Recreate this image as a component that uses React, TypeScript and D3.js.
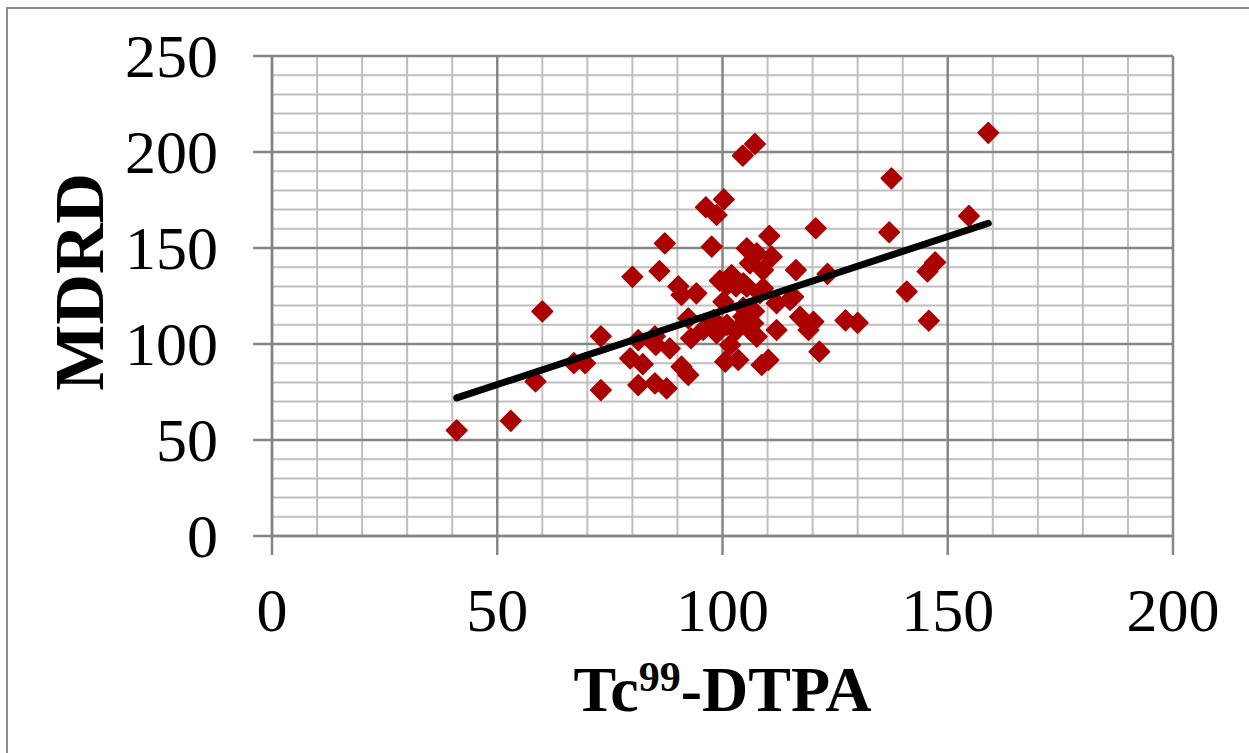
import React, { useEffect } from "react";
import * as d3 from "d3";

// Tc99-DTPA (x) vs MDRD (y)
const tcDtpa = [
  41, 53, 58.5, 60, 67, 69.5, 73, 73,
  79.5, 80, 81.3, 81.3, 82.3, 85, 85.2, 85, 86, 87.2, 87.6, 88.3, 90.2, 90.9, 90.9, 92.4, 92.4, 93, 94.2,
  95.7, 96.3, 97.6, 98, 98.7, 98.7, 100.3, 100.2, 100.6, 100.9, 101.3, 101.7, 102, 103.5, 104.5, 104.6, 104.6,
  105.4, 105.4, 106.1, 106.1, 106.8, 107.2, 107.6, 107.6, 108.7, 109, 109, 110.2, 110.4, 110.9, 112, 112,
  115, 115.7, 116.3, 117.2, 119.1, 120.2, 120.7, 121.5, 123.3, 127.3, 130, 137, 137.5, 140.9, 145.8, 145.5,
  147.2, 154.7, 159,
  103, 108.3, 104.6, 99.4, 101, 103, 107,
];
const mdrd = [
  55, 60, 80.5, 117, 90, 90, 104, 76,
  92.5, 135, 102, 78.6, 89.5, 104, 99.5, 79.5, 138, 152.4, 76.9, 97.7, 130, 125.5, 88.2, 83.9, 113.4, 103, 126.4,
  107.3, 171.2, 150.7, 112.5, 167.2, 105.6, 175.3, 122, 90.8, 130.7, 131.6, 99.5, 135.9, 91.7, 198.1, 131.6, 114.2,
  149.8, 129.9, 142, 107.3, 110.8, 204.2, 147.2, 103.8, 89.1, 138.5, 129, 91.7, 156.3, 145.5, 121.2, 107.3,
  122.9, 124.6, 138.5, 114.2, 107.3, 111.6, 160.3, 96, 136.5, 112.3, 111, 158.2, 186.3, 127.3, 112.1, 137.8,
  142.5, 166.7, 210,
  130, 126.5, 119, 133, 110, 107, 117,
];
const xTicks = [0, 50, 100, 150, 200];
const yTicks = [0, 50, 100, 150, 200, 250];

// linear trend line
const trendSlope = 0.771;
const trendIntercept = 40.3;

const width = 1249;
const height = 753;
const margin = { top: 56, right: 76, bottom: 217, left: 272 };
const font = "'Liberation Serif', 'Times New Roman', serif";

export default function App() {
  useEffect(() => {
    document.body.style.margin = "0";
  }, []);

  const x = d3.scaleLinear().domain([0, 200]).range([margin.left, width - margin.right]);
  const y = d3.scaleLinear().domain([0, 250]).range([height - margin.bottom, margin.top]);

  const gridX = d3.range(0, 201, 10);
  const gridY = d3.range(0, 251, 10);
  const diamond = d3.symbol().type(d3.symbolSquare).size(212)();

  const xExt = d3.extent(tcDtpa) as [number, number];
  const trend = d3.line<number>()
    .x(d => x(d))
    .y(d => y(trendSlope * d + trendIntercept));

  const x0 = x(0), x1 = x(200), y0 = y(0), y1 = y(250);

  return (
    <svg width={width} height={height} style={{ display: "block", background: "#fff" }}>
      <rect x={7} y={8} width={width + 20} height={height + 20} fill="#fff" stroke="#8c8c8c" strokeWidth={2} />

      {/* minor grid */}
      <g stroke="#bfbfbf" strokeWidth={2}>
        {gridX.filter(v => v % 50 !== 0).map(v => (
          <line key={"vx" + v} x1={x(v)} x2={x(v)} y1={y0} y2={y1} />
        ))}
        {gridY.filter(v => v % 50 !== 0).map(v => (
          <line key={"hy" + v} x1={x0} x2={x1} y1={y(v)} y2={y(v)} />
        ))}
      </g>
      {/* major grid */}
      <g stroke="#868686" strokeWidth={2.5}>
        {xTicks.map(v => (
          <line key={"mx" + v} x1={x(v)} x2={x(v)} y1={y0} y2={y1} />
        ))}
        {yTicks.map(v => (
          <line key={"my" + v} x1={x0} x2={x1} y1={y(v)} y2={y(v)} />
        ))}
      </g>

      {/* axes */}
      <g stroke="#868686" strokeWidth={2.5}>
        <line x1={x0} x2={x0} y1={y0} y2={y1} />
        <line x1={x0} x2={x1} y1={y0} y2={y0} />
        {yTicks.map(v => (
          <line key={"ty" + v} x1={x0 - 19} x2={x0} y1={y(v)} y2={y(v)} />
        ))}
        {xTicks.map(v => (
          <line key={"tx" + v} x1={x(v)} x2={x(v)} y1={y0} y2={y0 + 19} />
        ))}
      </g>

      <g fontFamily={font} fontSize={62} fill="#000">
        {yTicks.map(v => (
          <text key={"ly" + v} x={x0 - 54} y={y(v) + 21} textAnchor="end">{v}</text>
        ))}
        {xTicks.map(v => (
          <text key={"lx" + v} x={x(v)} y={631} textAnchor="middle">{v}</text>
        ))}
      </g>

      {/* points */}
      <g fill="#aa0000" stroke="#aa0000" strokeWidth={1.5} strokeLinejoin="round">
        {tcDtpa.map((v, i) => (
          <path key={i} d={diamond} transform={`translate(${x(v)},${y(mdrd[i])}) rotate(45)`} />
        ))}
      </g>

      <path d={trend(xExt) || ""} fill="none" stroke="#000" strokeWidth={7} strokeLinecap="round" />

      {/* axis titles */}
      <text x={(x0 + x1) / 2} y={711} textAnchor="middle" fontFamily={font} fontWeight="bold" fontSize={64}>
        Tc<tspan fontSize={42} dy={-20}>99</tspan><tspan dy={20}>-DTPA</tspan>
      </text>
      <text transform={`translate(103,${(y0 + y1) / 2 - 14}) rotate(-90)`} textAnchor="middle"
        fontFamily={font} fontWeight="bold" fontSize={70}>
        MDRD
      </text>
    </svg>
  );
}
